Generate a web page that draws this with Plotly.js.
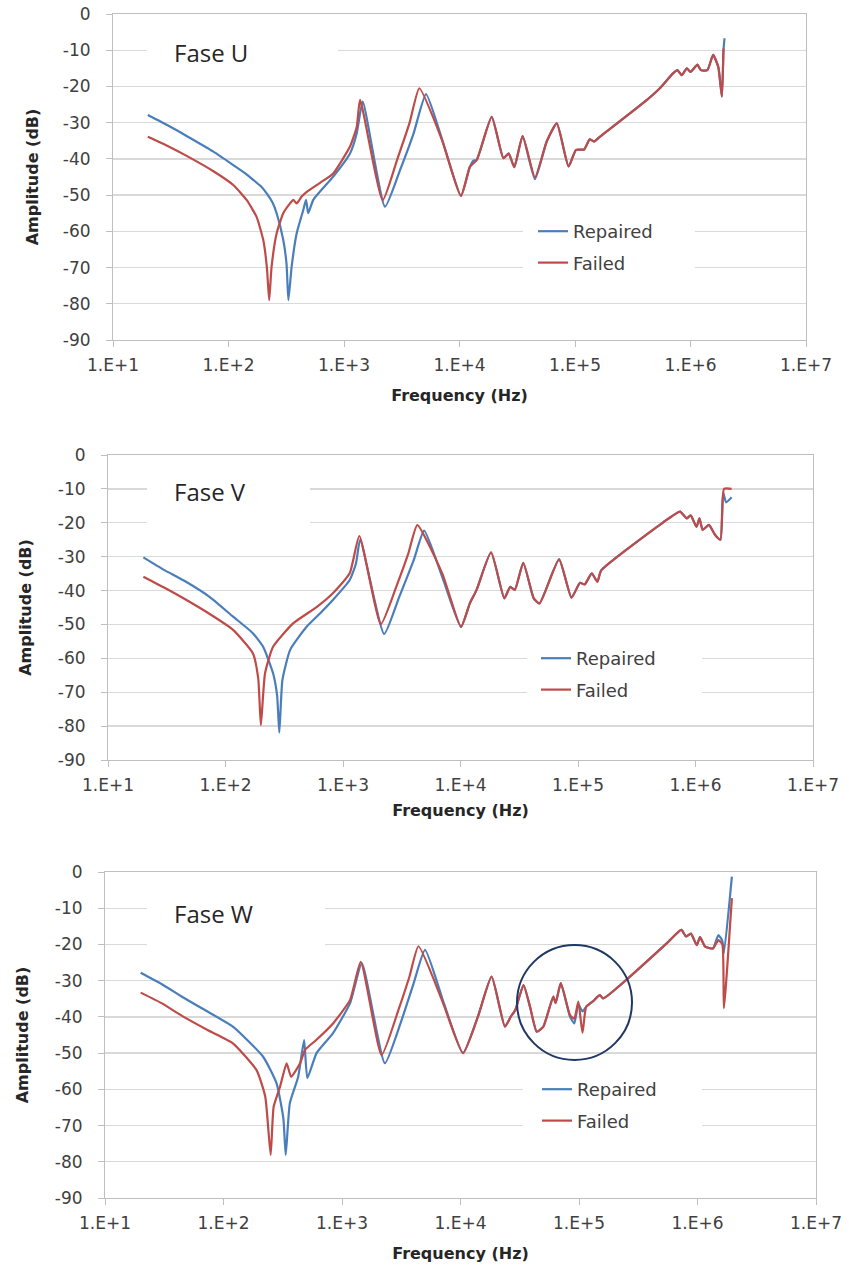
<!DOCTYPE html>
<html>
<head>
<meta charset="utf-8">
<script src="https://cdn.plot.ly/plotly-3.0.1.min.js"></script>
<style>
html,body{margin:0;padding:0;background:#ffffff;}
#chart{width:849px;height:1266px;}
</style>
</head>
<body>
<div id="chart"></div>
<script>
// ---------------- DATA ----------------
const seriesNames = ['Repaired', 'Failed'];
const panelTitles = ['Fase U', 'Fase V', 'Fase W'];
const xTickVals = [1e1, 1e2, 1e3, 1e4, 1e5, 1e6, 1e7];
const xTickText = ['1.E+1', '1.E+2', '1.E+3', '1.E+4', '1.E+5', '1.E+6', '1.E+7'];
const yTickVals = [0, -10, -20, -30, -40, -50, -60, -70, -80, -90];
const yTickText = ['0', '-10', '-20', '-30', '-40', '-50', '-60', '-70', '-80', '-90'];

// Fase U
const uRepairedFreq = [20, 30, 43, 74, 110, 140, 164, 190, 214, 240, 261, 298, 318, 330, 352, 389, 444, 469, 490, 542, 807, 1127, 1290, 1452, 2265, 3055, 4000, 5130, 7240, 10300, 12300, 13200, 14100, 19000, 24000, 26700, 29800, 35200, 45000, 56900, 69600, 88000, 102000, 120000, 134000, 146000, 164000, 420000, 543000, 705000, 770000, 840000, 930000, 1000000, 1150000, 1230000, 1400000, 1570000, 1740000, 1870000, 1930000, 1970000];
const uRepairedAmp = [-27.9, -30.8, -33.6, -38, -41.7, -44, -45.8, -47.5, -49.5, -52, -55, -62.4, -69, -79, -69.8, -60.6, -54.1, -51.3, -55, -51.3, -44.9, -38.5, -32.9, -24.2, -53.2, -43.1, -33, -22.1, -35.7, -50.2, -42.2, -40.5, -40.3, -28.4, -39.8, -38.5, -42.3, -33.7, -45.6, -35.2, -30.2, -42.1, -37.5, -37.4, -34.6, -35.2, -33.9, -23.7, -20.5, -16.4, -15.5, -16.9, -15, -16, -14, -15.5, -15.5, -11.3, -14.6, -22.8, -10, -6.7];
const uFailedFreq = [20, 30, 43, 74, 110, 144, 175, 200, 215, 225, 236, 261, 298, 341, 364, 389, 430, 476, 620, 807, 1127, 1290, 1377, 2163, 2900, 3700, 4490, 7000, 10300, 12300, 14100, 19000, 24000, 26700, 29800, 35200, 45000, 56900, 69600, 88000, 102000, 120000, 134000, 146000, 164000, 420000, 543000, 705000, 770000, 840000, 930000, 1000000, 1150000, 1230000, 1400000, 1570000, 1740000, 1870000, 1930000];
const uFailedAmp = [-33.9, -36.5, -39.1, -43.4, -47.2, -51.4, -56, -62.4, -70, -79, -69.8, -60.6, -55, -52.3, -51.3, -52.3, -50.4, -49.1, -46.6, -44, -36.6, -31.1, -23.7, -51.4, -40, -30, -20.5, -34.5, -50.2, -42.2, -40.3, -28.4, -39.8, -38.5, -42.3, -33.7, -45.1, -35.2, -30.2, -42.1, -37.5, -37.4, -34.6, -35.2, -33.9, -23.7, -20.5, -16.4, -15.5, -16.9, -15, -16, -14, -15.5, -15.5, -11.3, -14.6, -22.8, -9.5];

// Fase V
const vRepairedFreq = [20, 30, 45, 74, 116, 170, 209, 254, 275, 287, 305, 355, 490, 640, 820, 1140, 1290, 1400, 2240, 3000, 4000, 4900, 7000, 10100, 12000, 13700, 18200, 23600, 26500, 29000, 34200, 42000, 47000, 69000, 88000, 104000, 114000, 131000, 146000, 158000, 525000, 740000, 840000, 910000, 1020000, 1080000, 1150000, 1300000, 1470000, 1630000, 1720000, 1820000, 2030000];
const vRepairedAmp = [-30.2, -33.9, -37.2, -42, -47.7, -52.5, -56.6, -64.4, -71, -81.9, -66.4, -57.5, -50.7, -46.7, -42.8, -36.9, -32, -25, -52.8, -42, -31, -22.3, -36, -50.7, -43.8, -39.8, -28.7, -42.3, -38.9, -39.8, -31.8, -42.3, -43.8, -30.8, -42.1, -37.7, -38.2, -34.9, -37.4, -34, -20, -16.7, -18.7, -17.8, -21.2, -18.7, -22.1, -20.6, -23.6, -25, -11, -14, -12.5];
const vFailedFreq = [20, 30, 45, 74, 116, 171, 190, 200, 217, 254, 376, 600, 820, 1140, 1377, 2100, 2900, 3600, 4290, 7000, 10100, 12000, 13700, 18200, 23600, 26500, 29000, 34200, 42000, 47000, 69000, 88000, 104000, 114000, 131000, 146000, 158000, 525000, 740000, 840000, 910000, 1020000, 1080000, 1150000, 1300000, 1470000, 1630000, 1750000, 2030000];
const vFailedAmp = [-35.9, -39.1, -42.5, -47, -51.6, -58.5, -66, -79.7, -64.4, -56.6, -49.7, -44.8, -40.8, -34.9, -23.9, -49.9, -38, -29, -20.7, -35, -50.7, -43.8, -39.8, -28.7, -42.3, -38.9, -39.8, -31.8, -42.3, -43.8, -30.8, -42.1, -37.7, -38.2, -34.9, -37.4, -34, -20, -16.7, -18.7, -17.8, -21.2, -18.7, -22.1, -20.6, -23.6, -25, -10, -10];

// Fase W
const wRepairedFreq = [20, 30, 45, 74, 120, 216, 280, 320, 335, 363, 427, 479, 510, 610, 840, 1170, 1470, 2300, 3100, 4000, 5020, 7200, 10500, 14000, 18300, 23700, 26500, 29000, 34000, 38600, 44000, 50000, 60700, 63500, 70200, 84000, 91300, 98700, 107000, 115000, 130000, 150000, 160000, 550000, 730000, 800000, 880000, 985000, 1050000, 1160000, 1350000, 1500000, 1620000, 1670000, 1950000];
const wRepairedAmp = [-27.8, -30.9, -34.5, -38.6, -42.7, -51, -58.3, -68, -78.1, -63.8, -56.5, -46.4, -56.9, -50, -44.5, -36.2, -25.2, -52.8, -42, -31, -21.5, -36, -50, -40, -28.9, -42.7, -40, -38.1, -31.2, -37.2, -44.1, -42.7, -34.4, -36.2, -30.7, -40, -41.8, -36.5, -38.5, -37.2, -35.8, -34, -34.9, -19.7, -16, -17.8, -17, -20.2, -18, -20.6, -21.1, -17.4, -19, -22.5, -1.3];
const wFailedFreq = [20, 30, 45, 74, 120, 190, 225, 250, 265, 300, 341, 372, 443, 488, 600, 840, 1170, 1440, 2160, 3000, 3700, 4420, 7000, 10500, 14000, 18300, 23700, 26500, 29000, 34000, 38600, 44000, 50000, 60700, 63500, 70200, 84000, 91300, 98700, 107000, 115000, 130000, 150000, 160000, 550000, 730000, 800000, 880000, 985000, 1050000, 1160000, 1350000, 1500000, 1620000, 1670000, 1950000];
const wFailedAmp = [-33.3, -36.2, -39.8, -43.7, -47.3, -54.7, -62, -78.1, -64.8, -59.3, -52.8, -56.5, -52.8, -49.1, -46.5, -41.8, -35.3, -24.8, -50.5, -38, -29, -20.5, -35.5, -50, -40, -28.9, -42.7, -40, -38.1, -31.2, -37.2, -44.1, -42.7, -34.4, -36.2, -30.7, -39.5, -40.5, -35.8, -44.4, -37.2, -35.8, -34, -34.9, -19.7, -16, -17.8, -17, -20.2, -18, -20.6, -21.1, -18.8, -20, -37.6, -7.2];

// ---------------- LAYOUT (pixel geometry of each panel) ----------------
const W = 849, H = 1266;
const COLORS = ['#4a7ebb', '#be4b48'];
const FONT = 'DejaVu Sans, Verdana, sans-serif';
const TXT = '#404040';
const AXC = '#bfbfbf';

const panels = [
  {left:113, right:806, top:14,  bottom:340,  text:{x:172, y:52},  textBox:[147,338,38,62],
   legend:{x:533, y:213}, legBox:[523,695,214,284], yStand:20, xStand:15,
   rep:[uRepairedFreq,uRepairedAmp], fail:[uFailedFreq,uFailedAmp]},
  {left:108, right:813, top:455, bottom:760,  text:{x:172, y:491}, textBox:[147,310,476,534],
   legend:{x:536, y:640}, legBox:[527,702,641,706], yStand:22, xStand:10,
   rep:[vRepairedFreq,vRepairedAmp], fail:[vFailedFreq,vFailedAmp]},
  {left:105, right:816, top:872, bottom:1198, text:{x:172, y:913}, textBox:[147,325,896,952],
   legend:{x:537, y:1071}, legBox:[523,702,1072,1142], yStand:22, xStand:15,
   rep:[wRepairedFreq,wRepairedAmp], fail:[wFailedFreq,wFailedAmp]}
];

const px2x = p => p / W;
const py2y = p => 1 - p / H;

const traces = [];
const layout = {
  width: W, height: H,
  margin: {l:0, r:0, t:0, b:0},
  paper_bgcolor: '#ffffff',
  plot_bgcolor: '#ffffff',
  font: {family: FONT, color: TXT, size: 17},
  showlegend: true,
  shapes: [],
  annotations: []
};

panels.forEach((p, i) => {
  const n = i === 0 ? '' : String(i + 1);
  const xa = 'x' + n, ya = 'y' + n;
  const legName = 'legend' + n;

  [p.rep, p.fail].forEach((s, k) => {
    traces.push({
      type: 'scatter', mode: 'lines',
      x: s[0], y: s[1],
      name: seriesNames[k],
      xaxis: xa, yaxis: ya,
      legend: legName,
      legendgroup: 'g' + i + '_' + k,
      line: {color: COLORS[k], width: 2.2, shape: 'spline', smoothing: 0.5},
      hoverinfo: 'skip'
    });
  });

  layout['xaxis' + n] = {
    type: 'log', range: [1, 7],
    domain: [px2x(p.left), px2x(p.right)],
    anchor: ya,
    tickmode: 'array', tickvals: xTickVals, ticktext: xTickText,
    ticks: 'outside', ticklen: 6, tickcolor: AXC, tickwidth: 1,
    showline: true, linecolor: AXC, linewidth: 1, mirror: true,
    showgrid: false, zeroline: false,
    tickfont: {family: FONT, size: 17, color: TXT},
    ticklabelstandoff: 4,
    title: {text: 'Frequency (Hz)', font: {family: FONT, size: 16, color: '#262626', weight: 'bold'}, standoff: p.xStand}
  };
  layout['yaxis' + n] = {
    range: [-90, 0],
    domain: [py2y(p.bottom), py2y(p.top)],
    anchor: xa,
    tickmode: 'array', tickvals: yTickVals, ticktext: yTickText,
    ticks: 'outside', ticklen: 6, tickcolor: AXC, tickwidth: 1,
    showline: true, linecolor: AXC, linewidth: 1, mirror: true,
    showgrid: true, gridcolor: '#d9d9d9', gridwidth: 1.3, zeroline: false,
    tickfont: {family: FONT, size: 17, color: TXT},
    ticklabelstandoff: 12,
    title: {text: 'Amplitude (dB)', font: {family: FONT, size: 16, color: '#262626', weight: 'bold'}, standoff: p.yStand}
  };

  layout[legName] = {
    x: px2x(p.legend.x), y: py2y(p.legend.y),
    xanchor: 'left', yanchor: 'top',
    xref: 'paper', yref: 'paper',
    bgcolor: 'rgba(0,0,0,0)', borderwidth: 0,
    font: {family: FONT, size: 18, color: TXT},
    traceorder: 'grouped', tracegroupgap: 5,
    itemwidth: 30
  };

  // white boxes (Excel text box / legend box hide the gridlines); no curve passes there
  [p.textBox, p.legBox].forEach(b => {
    layout.shapes.push({
      type: 'rect', xref: 'paper', yref: 'paper', layer: 'above',
      x0: px2x(b[0]), x1: px2x(b[1]), y0: py2y(b[3]), y1: py2y(b[2]),
      fillcolor: '#ffffff', line: {width: 0}
    });
  });

  layout.annotations.push({
    text: panelTitles[i], xref: 'paper', yref: 'paper',
    x: px2x(p.text.x), y: py2y(p.text.y), xanchor: 'left', yanchor: 'middle',
    showarrow: false,
    font: {family: 'Open Sans, sans-serif', size: 24, color: '#262626'}
  });
});

// highlight circle on Fase W
layout.shapes.push({
  type: 'circle', xref: 'paper', yref: 'paper', layer: 'above',
  x0: px2x(517), x1: px2x(632), y0: py2y(1060), y1: py2y(945),
  line: {color: '#1f3864', width: 2}, fillcolor: 'rgba(0,0,0,0)'
});

Plotly.newPlot('chart', traces, layout, {staticPlot: true, displayModeBar: false});
</script>
</body>
</html>
